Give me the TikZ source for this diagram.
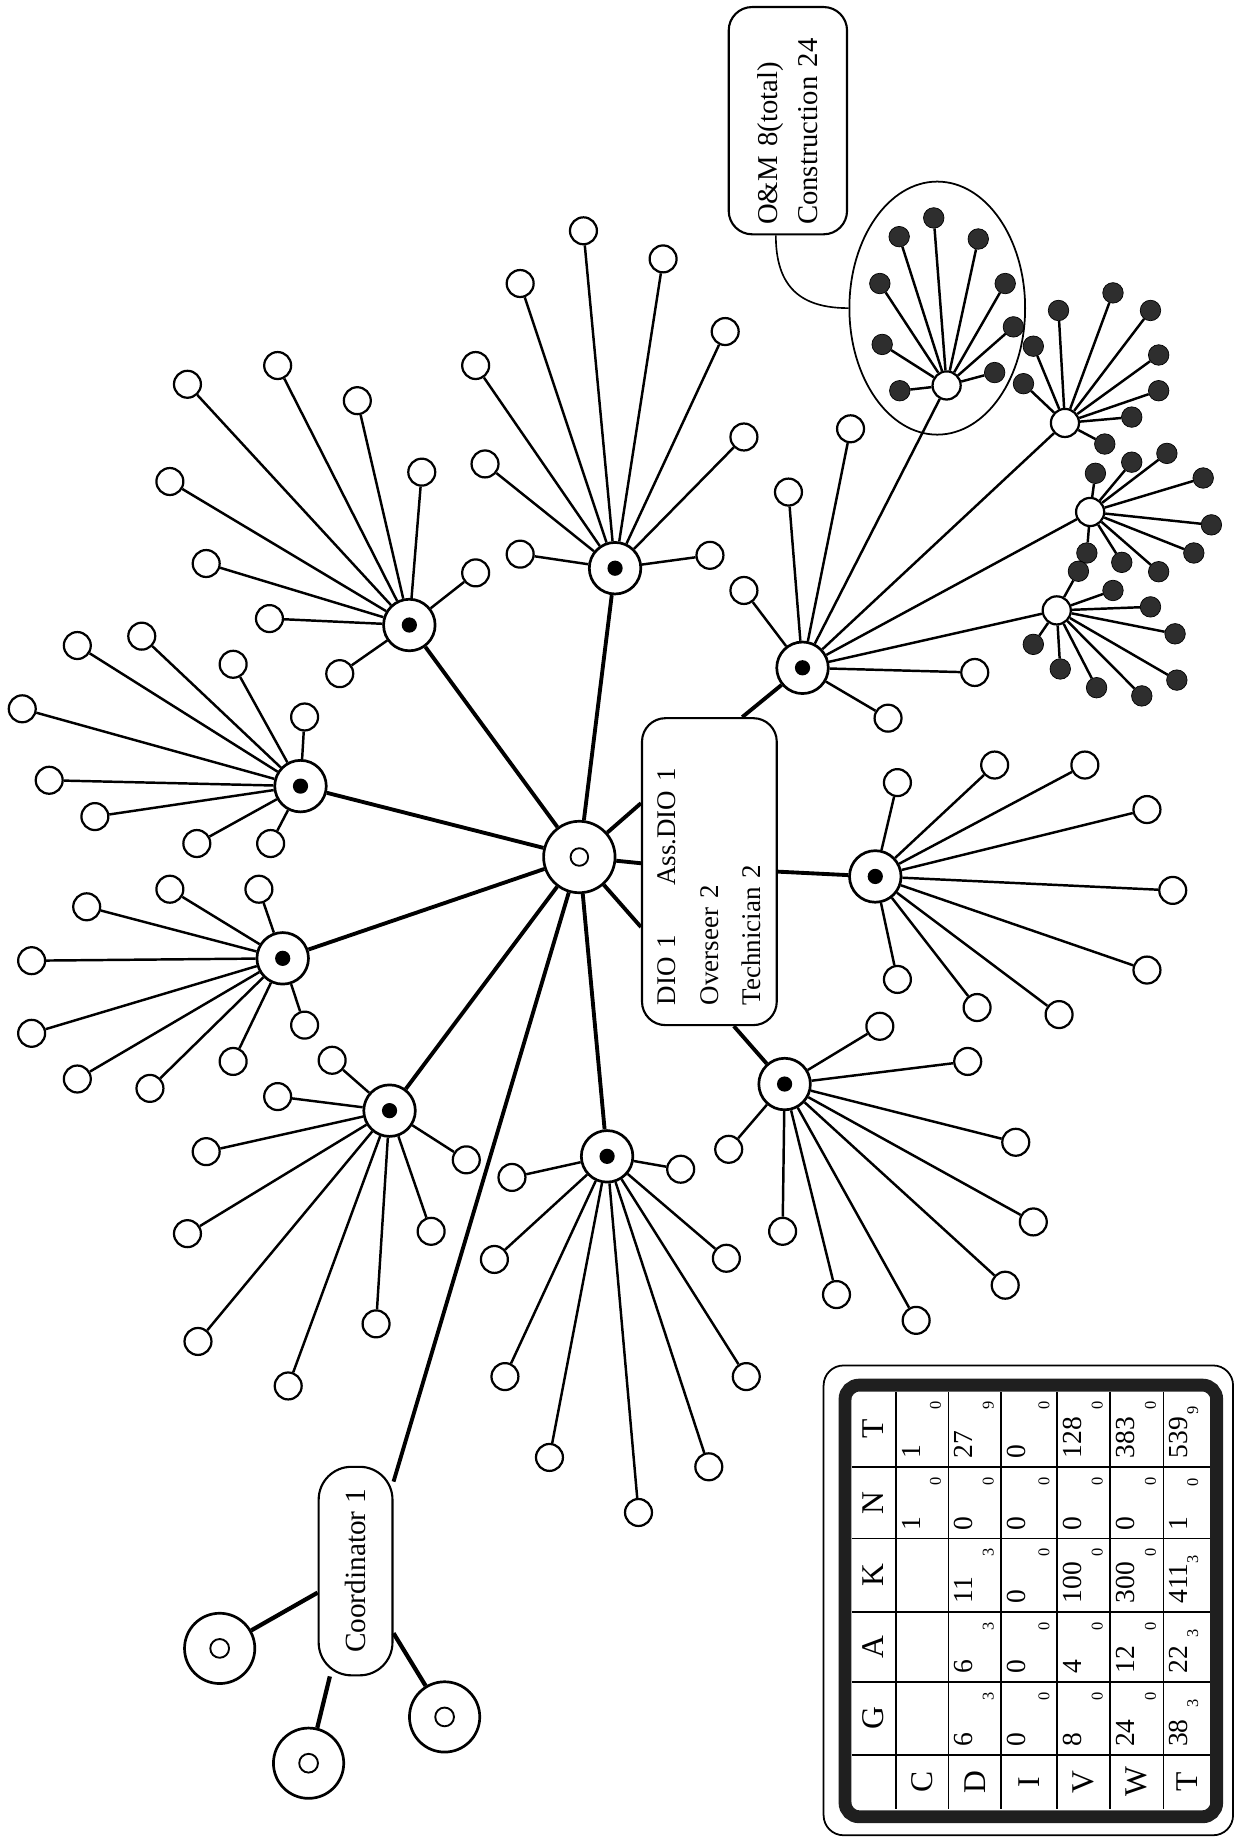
\documentclass[tikz,border=0pt]{standalone}
\usepackage{fontspec}
\setmainfont{Liberation Serif}
\usetikzlibrary{shapes.geometric}
\newcommand\leaffan[3]{\foreach \px/\py [count=\k] in {#3} {\node[#2] (#1l\k) at (\px,\py) {}; \draw[twigline] (#1) -- (#1l\k);}}
\newcommand\tcell[7]{\node[mainnum] (#1) at (#2,#3) {#4}; \node[subnum] (#1s) at (#5,#6) {#7};}
\begin{document}
\begin{tikzpicture}[x=1pt,y=-1pt,
  leafnode/.style={circle,draw,line width=1.9pt,minimum size=23pt,inner sep=0pt,fill=white},
  darknode/.style={circle,draw=black,fill=black!82,line width=0.6pt,minimum size=17.5pt,inner sep=0pt},
  hubnode/.style={circle,draw,line width=2.3pt,minimum size=44pt,inner sep=0pt,fill=white,path picture={\fill[black] (path picture bounding box.center) circle (6.5pt);}},
  subhubnode/.style={circle,draw,line width=1.9pt,minimum size=24pt,inner sep=0pt,fill=white},
  ringnode/.style={circle,draw,line width=2.3pt,minimum size=60pt,inner sep=0pt,fill=white,path picture={\draw[line width=1.6pt] (path picture bounding box.center) circle (8pt);}},
  twigline/.style={line width=2.1pt},
  trunkline/.style={line width=3.3pt},
  boxnode/.style={draw,line width=1.8pt,rotate=90,inner sep=0pt,fill=white,align=left},
  mainnum/.style={rotate=90,anchor=west,inner sep=0pt,font=\fontsize{23.5}{23.5}\selectfont},
  subnum/.style={rotate=90,inner sep=0pt,font=\fontsize{14}{14}\selectfont},
  headl/.style={rotate=90,inner sep=0pt,font=\fontsize{27}{27}\selectfont}
]
\fill[white] (0,0) rectangle (1056,1568);
\useasboundingbox (0,0) rectangle (1056,1568);

% centre and hubs
\node[circle,draw,line width=2.3pt,minimum size=61pt,inner sep=0pt,fill=white,path picture={\draw[line width=1.6pt] (path picture bounding box.center) circle (7.5pt);}] (ctr) at (494.5,731.5) {};
\node[hubnode] (h1) at (349.4,533.5) {};
\node[hubnode] (h2) at (525,485) {};
\node[hubnode] (h3) at (256.5,671) {};
\node[hubnode] (h4) at (241.3,818) {};
\node[hubnode] (h5) at (332.5,948) {};
\node[hubnode] (h6) at (518.2,987) {};
\node[hubnode] (h7) at (669.7,925.3) {};
\node[hubnode] (h8) at (747.1,748.1) {};
\node[hubnode] (h9) at (685,570) {};

% boxes
\node[boxnode,rounded corners=20pt,minimum width=262pt,minimum height=115pt,text width=228pt,font=\fontsize{23}{36.5}\selectfont] (dio) at (605.5,744) {DIO 1\hspace{42pt}Ass.DIO 1\\Overseer 2\\Technician 2};
\node[boxnode,rounded corners=20pt,minimum width=194pt,minimum height=101pt,text width=178pt,font=\fontsize{24.5}{34.5}\selectfont] (om) at (672.5,103) {O\&M 8(total)\\Construction 24};
\node[boxnode,rounded corners=28pt,minimum width=178pt,minimum height=63pt,font=\fontsize{25}{25}\selectfont] (coord) at (303.5,1341) {Coordinator 1};
\node[ellipse,draw,line width=1.5pt,minimum width=150pt,minimum height=216pt,inner sep=0pt] (ell) at (800,263) {};

% coordinator circles
\node[ringnode] (c1) at (187.5,1407) {};
\node[ringnode] (c2) at (263.4,1505) {};
\node[ringnode] (c3) at (379.5,1465.5) {};

% trunk connections
\foreach \h in {h1,h2,h3,h4,h5,h6} {\draw[trunkline] (ctr) -- (\h);}
\draw[trunkline] (ctr) -- (coord.337);
\draw[trunkline] (ctr) -- (dio.45);
\draw[trunkline] (ctr) -- (dio.83);
\draw[trunkline] (ctr) -- (dio.129);
\draw[trunkline] (h9) -- (dio.348);
\draw[trunkline] (h8) -- (dio.270);
\draw[trunkline] (h7) -- (dio.189);
\draw[line width=3.6pt] (c1) -- (coord);
\draw[line width=3.6pt] (c2) -- (coord);
\draw[line width=3.6pt] (c3) -- (coord);
\draw[line width=1.4pt] (om.174) .. controls +(0,45) and +(-40,0) .. (ell.west);

% leaves
\leaffan{h1}{leafnode}{160/328, 237/312, 305/342, 360/403, 145/411, 176/481, 230/528, 290/575, 406/489}
\leaffan{h2}{leafnode}{498/197, 444/242, 406/312, 414/396, 444/473, 566/221, 619/283, 635/373, 606/474}
\leaffan{h3}{leafnode}{66/551, 121/543, 199/567, 260/612, 19/605, 42/666, 81/697, 168/720, 231/720}
\leaffan{h4}{leafnode}{145/759, 221/759, 74/774, 27/820, 27/882, 66/921, 128/929, 199/906, 260/875}
\leaffan{h5}{leafnode}{283.5/905, 237/936, 176/983, 160/1053, 169/1145, 246/1183, 321/1130, 368/1051, 398/990}
\leaffan{h6}{leafnode}{437/1005, 422/1075, 431/1175, 469/1244, 545/1291, 605/1252, 637/1175, 620/1074, 581/998}
\leaffan{h7}{leafnode}{751/876, 826/906, 867/975, 882/1043, 858/1097, 782/1127, 714/1105, 668/1051, 622/981}
\leaffan{h8}{leafnode}{766/668, 849/653, 926/653, 979/691, 1001/760, 979/828, 904/866, 834/860, 766/836}
\leaffan{h9}{leafnode}{673/420, 726/366, 635/504, 758/613, 832/574}

% sub hubs
\node[subhubnode] (e0) at (808,329) {};
\node[subhubnode] (s2) at (909,361) {};
\node[subhubnode] (s3) at (930.5,437) {};
\node[subhubnode] (s4) at (902,521) {};
\foreach \s in {e0,s2,s3,s4} {\draw[twigline] (h9) -- (\s);}
\leaffan{e0}{darknode}{797/186, 767.5/202, 835/204, 751/242, 858/242, 753/294, 865/279, 768/333.5, 849/318}
\leaffan{s2}{darknode}{903.5/265, 950/250, 982/265, 989/303, 989/333.5, 966/356, 943/379, 882/295.5, 873.6/327.5}
\leaffan{s3}{darknode}{935/404, 966/394.5, 996/387, 1027/408, 1034/448, 1019/472, 989/488, 957.5/480, 927.7/472}
\leaffan{s4}{darknode}{920.5/487.6, 950/504, 982/518, 1003/541, 1004.5/580.5, 974.6/594, 936/587, 905/571, 882/550}

% table
\draw[line width=1.5pt,rounded corners=17pt] (703,1165.5) rectangle (1052.5,1566.5);
\draw[line width=11pt,black!88,rounded corners=12pt] (721.3,1182.3) rectangle (1038.5,1550.7);
\foreach \gx in {764.9,809.5,854.5,902.1,947.6,993.1} {\draw[line width=1.4pt] (\gx,1188) -- (\gx,1543.7);}
\foreach \gy in {1252.1,1313.2,1375.9,1435.6,1498.2} {\draw[line width=1.4pt] (727,\gy) -- (1033,\gy);}
\node[headl] (hT) at (745.5,1220) {T};
\node[headl] (hN) at (745.5,1282.6) {N};
\node[headl] (hK) at (745.5,1344.5) {K};
\node[headl] (hA) at (745.5,1405.7) {A};
\node[headl] (hG) at (745.5,1466.9) {G};
\node[headl] (rC) at (787.2,1521) {C};
\node[headl] (rD) at (832,1521) {D};
\node[headl] (rI) at (878.3,1521) {I};
\node[headl] (rV) at (924.8,1521) {V};
\node[headl] (rW) at (970.3,1521) {W};
\node[headl] (rT) at (1013,1521) {T};
% row C
\tcell{cN}{777.9}{1306.2}{1}{798.5}{1264.1}{0}
\tcell{cT}{777.9}{1245.1}{1}{798.5}{1200}{0}
% row D
\tcell{dG}{822.5}{1491.2}{6}{843.5}{1447.6}{3}
\tcell{dA}{822.5}{1428.6}{6}{843.5}{1387.9}{3}
\tcell{dK}{822.5}{1368.9}{11}{843.5}{1325.2}{3}
\tcell{dN}{822.5}{1306.2}{0}{843.5}{1264.1}{0}
\tcell{dT}{822.5}{1245.1}{27}{843.5}{1200}{9}
% row I
\tcell{iG}{867.5}{1491.2}{0}{891.1}{1447.6}{0}
\tcell{iA}{867.5}{1428.6}{0}{891.1}{1387.9}{0}
\tcell{iK}{867.5}{1368.9}{0}{891.1}{1325.2}{0}
\tcell{iN}{867.5}{1306.2}{0}{891.1}{1264.1}{0}
\tcell{iT}{867.5}{1245.1}{0}{891.1}{1200}{0}
% row V
\tcell{vG}{915.1}{1491.2}{8}{936.6}{1447.6}{0}
\tcell{vA}{915.1}{1428.6}{4}{936.6}{1387.9}{0}
\tcell{vK}{915.1}{1368.9}{100}{936.6}{1325.2}{0}
\tcell{vN}{915.1}{1306.2}{0}{936.6}{1264.1}{0}
\tcell{vT}{915.1}{1245.1}{128}{936.6}{1200}{0}
% row W
\tcell{wG}{960.6}{1491.2}{24}{982.1}{1447.6}{0}
\tcell{wA}{960.6}{1428.6}{12}{982.1}{1387.9}{0}
\tcell{wK}{960.6}{1368.9}{300}{982.1}{1325.2}{0}
\tcell{wN}{960.6}{1306.2}{0}{982.1}{1264.1}{0}
\tcell{wT}{960.6}{1245.1}{383}{982.1}{1200}{0}
% row T
\tcell{tG}{1006.1}{1491.2}{38}{1018}{1453.6}{3}
\tcell{tA}{1006.1}{1428.6}{22}{1018}{1393.9}{3}
\tcell{tK}{1006.1}{1368.9}{411}{1018}{1331.2}{3}
\tcell{tN}{1006.1}{1306.2}{1}{1018}{1265}{0}
\tcell{tT}{1006.1}{1245.1}{539}{1018}{1204}{9}
\end{tikzpicture}
\end{document}
